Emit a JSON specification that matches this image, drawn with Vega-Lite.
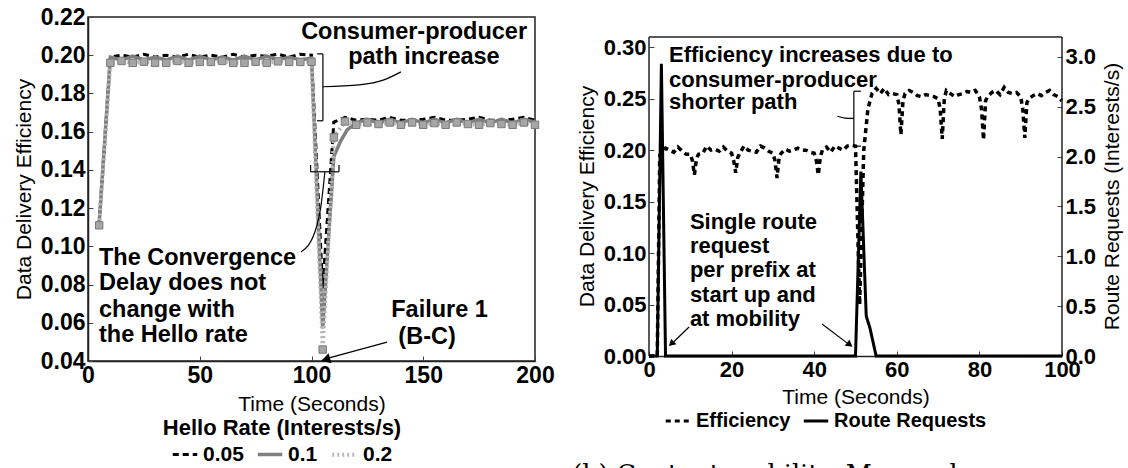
{
  "$schema": "https://vega.github.io/schema/vega-lite/v6.json",
  "padding": {"left": 12, "top": 5, "right": 0, "bottom": 0},
  "background": "white",
  "spacing": 17,
  "resolve": {
    "scale": {"color": "independent", "strokeDash": "independent", "strokeWidth": "independent"},
    "legend": {"color": "independent", "strokeDash": "independent"}
  },
  "hconcat": [
    {
      "width": 447,
      "height": 344,
      "layer": [
        {
          "data": {"values": [
            {"t":5,"v":0.112,"rate":"0.05"},{"t":10,"v":0.199,"rate":"0.05"},{"t":15,"v":0.2,"rate":"0.05"},{"t":20,"v":0.199,"rate":"0.05"},{"t":25,"v":0.2005,"rate":"0.05"},{"t":30,"v":0.199,"rate":"0.05"},{"t":35,"v":0.2,"rate":"0.05"},{"t":40,"v":0.199,"rate":"0.05"},{"t":45,"v":0.2005,"rate":"0.05"},{"t":50,"v":0.199,"rate":"0.05"},{"t":55,"v":0.2,"rate":"0.05"},{"t":60,"v":0.199,"rate":"0.05"},{"t":65,"v":0.2005,"rate":"0.05"},{"t":70,"v":0.199,"rate":"0.05"},{"t":75,"v":0.2,"rate":"0.05"},{"t":80,"v":0.1995,"rate":"0.05"},{"t":85,"v":0.2005,"rate":"0.05"},{"t":90,"v":0.199,"rate":"0.05"},{"t":95,"v":0.2005,"rate":"0.05"},{"t":100,"v":0.2,"rate":"0.05"},{"t":105,"v":0.078,"rate":"0.05"},{"t":110,"v":0.165,"rate":"0.05"},{"t":115,"v":0.1675,"rate":"0.05"},{"t":120,"v":0.166,"rate":"0.05"},{"t":125,"v":0.1665,"rate":"0.05"},{"t":130,"v":0.166,"rate":"0.05"},{"t":135,"v":0.1675,"rate":"0.05"},{"t":140,"v":0.166,"rate":"0.05"},{"t":145,"v":0.166,"rate":"0.05"},{"t":150,"v":0.1665,"rate":"0.05"},{"t":155,"v":0.1675,"rate":"0.05"},{"t":160,"v":0.166,"rate":"0.05"},{"t":165,"v":0.166,"rate":"0.05"},{"t":170,"v":0.1665,"rate":"0.05"},{"t":175,"v":0.1675,"rate":"0.05"},{"t":180,"v":0.166,"rate":"0.05"},{"t":185,"v":0.166,"rate":"0.05"},{"t":190,"v":0.1665,"rate":"0.05"},{"t":195,"v":0.1675,"rate":"0.05"},{"t":200,"v":0.166,"rate":"0.05"},
            {"t":5,"v":0.112,"rate":"0.1"},{"t":10,"v":0.199,"rate":"0.1"},{"t":15,"v":0.1975,"rate":"0.1"},{"t":20,"v":0.1995,"rate":"0.1"},{"t":25,"v":0.1975,"rate":"0.1"},{"t":30,"v":0.199,"rate":"0.1"},{"t":35,"v":0.1975,"rate":"0.1"},{"t":40,"v":0.1995,"rate":"0.1"},{"t":45,"v":0.1975,"rate":"0.1"},{"t":50,"v":0.1995,"rate":"0.1"},{"t":55,"v":0.1975,"rate":"0.1"},{"t":60,"v":0.199,"rate":"0.1"},{"t":65,"v":0.1975,"rate":"0.1"},{"t":70,"v":0.1995,"rate":"0.1"},{"t":75,"v":0.1975,"rate":"0.1"},{"t":80,"v":0.1995,"rate":"0.1"},{"t":85,"v":0.1975,"rate":"0.1"},{"t":90,"v":0.199,"rate":"0.1"},{"t":95,"v":0.1975,"rate":"0.1"},{"t":100,"v":0.1985,"rate":"0.1"},{"t":105,"v":0.057,"rate":"0.1"},{"t":110,"v":0.147,"rate":"0.1"},{"t":113,"v":0.155,"rate":"0.1"},{"t":116,"v":0.161,"rate":"0.1"},{"t":120,"v":0.1645,"rate":"0.1"},{"t":125,"v":0.1665,"rate":"0.1"},{"t":130,"v":0.1645,"rate":"0.1"},{"t":135,"v":0.1665,"rate":"0.1"},{"t":140,"v":0.1645,"rate":"0.1"},{"t":145,"v":0.1665,"rate":"0.1"},{"t":150,"v":0.1645,"rate":"0.1"},{"t":155,"v":0.1665,"rate":"0.1"},{"t":160,"v":0.1645,"rate":"0.1"},{"t":165,"v":0.1665,"rate":"0.1"},{"t":170,"v":0.1645,"rate":"0.1"},{"t":175,"v":0.1665,"rate":"0.1"},{"t":180,"v":0.1645,"rate":"0.1"},{"t":185,"v":0.1665,"rate":"0.1"},{"t":190,"v":0.1645,"rate":"0.1"},{"t":195,"v":0.1665,"rate":"0.1"},{"t":200,"v":0.165,"rate":"0.1"},
            {"t":5,"v":0.111,"rate":"0.2"},{"t":10,"v":0.196,"rate":"0.2"},{"t":15,"v":0.197,"rate":"0.2"},{"t":20,"v":0.196,"rate":"0.2"},{"t":25,"v":0.1966,"rate":"0.2"},{"t":30,"v":0.196,"rate":"0.2"},{"t":35,"v":0.196,"rate":"0.2"},{"t":40,"v":0.197,"rate":"0.2"},{"t":45,"v":0.196,"rate":"0.2"},{"t":50,"v":0.1965,"rate":"0.2"},{"t":55,"v":0.1965,"rate":"0.2"},{"t":60,"v":0.197,"rate":"0.2"},{"t":65,"v":0.196,"rate":"0.2"},{"t":70,"v":0.196,"rate":"0.2"},{"t":75,"v":0.1966,"rate":"0.2"},{"t":80,"v":0.196,"rate":"0.2"},{"t":85,"v":0.1968,"rate":"0.2"},{"t":90,"v":0.1965,"rate":"0.2"},{"t":95,"v":0.1965,"rate":"0.2"},{"t":100,"v":0.1966,"rate":"0.2"},{"t":105,"v":0.046,"rate":"0.2"},{"t":110,"v":0.157,"rate":"0.2"},{"t":115,"v":0.1653,"rate":"0.2"},{"t":120,"v":0.1636,"rate":"0.2"},{"t":125,"v":0.1648,"rate":"0.2"},{"t":130,"v":0.164,"rate":"0.2"},{"t":135,"v":0.1648,"rate":"0.2"},{"t":140,"v":0.1636,"rate":"0.2"},{"t":145,"v":0.1648,"rate":"0.2"},{"t":150,"v":0.1636,"rate":"0.2"},{"t":155,"v":0.1645,"rate":"0.2"},{"t":160,"v":0.1636,"rate":"0.2"},{"t":165,"v":0.1648,"rate":"0.2"},{"t":170,"v":0.164,"rate":"0.2"},{"t":175,"v":0.1636,"rate":"0.2"},{"t":180,"v":0.1645,"rate":"0.2"},{"t":185,"v":0.164,"rate":"0.2"},{"t":190,"v":0.1636,"rate":"0.2"},{"t":195,"v":0.1648,"rate":"0.2"},{"t":200,"v":0.1636,"rate":"0.2"}
          ]},
          "layer": [
            {
              "mark": {"type": "line"},
              "encoding": {
                "x": {"field": "t", "type": "quantitative", "scale": {"domain": [0, 200], "nice": false}, "axis": {"values": [0, 50, 100, 150, 200], "title": "Time (Seconds)", "labelFlush": false, "labelOverlap": false, "labelFontSize": 23}},
                "y": {"field": "v", "type": "quantitative", "scale": {"domain": [0.04, 0.22], "nice": false, "zero": false}, "axis": {"tickCount": 10, "format": ".2f", "title": "Data Delivery Efficiency", "labelOverlap": false, "labelFlush": false, "labelFontSize": 23}},
                "color": {"field": "rate", "type": "nominal", "scale": {"domain": ["0.05", "0.1", "0.2"], "range": ["#000000", "#7f7f7f", "#b8b8b8"]}, "legend": {"title": "Hello Rate (Interests/s)", "orient": "none", "legendX": 75, "legendY": 401, "titleLimit": 500, "titleFontSize": 22}},
                "strokeDash": {"field": "rate", "type": "nominal", "scale": {"domain": ["0.05", "0.1", "0.2"], "range": [[6, 4], [1, 0], [2, 3]]}, "legend": {"title": "Hello Rate (Interests/s)", "orient": "none", "legendX": 75, "legendY": 401, "titleLimit": 500, "titleFontSize": 22}},
                "strokeWidth": {"field": "rate", "type": "nominal", "scale": {"domain": ["0.05", "0.1", "0.2"], "range": [3, 4, 3]}, "legend": null}
              }
            },
            {
              "transform": [{"filter": "datum.rate == '0.2'"}],
              "mark": {"type": "point", "shape": "square", "filled": true, "size": 55, "fill": "#a6a6a6", "stroke": "#7a7a7a", "strokeWidth": 1, "opacity": 1},
              "encoding": {
                "x": {"field": "t", "type": "quantitative"},
                "y": {"field": "v", "type": "quantitative"}
              }
            }
          ]
        },
        {
          "data": {"values": [
            {"t": 102.5, "v": 0.2007, "t2": 105.1, "v2": 0.2007},
            {"t": 102.5, "v": 0.1657, "t2": 105.1, "v2": 0.1657},
            {"t": 105.1, "v": 0.2007, "t2": 105.1, "v2": 0.1657},
            {"t": 99.6, "v": 0.139, "t2": 112.3, "v2": 0.139},
            {"t": 99.6, "v": 0.139, "t2": 99.6, "v2": 0.1426},
            {"t": 112.3, "v": 0.139, "t2": 112.3, "v2": 0.1426}
          ]},
          "mark": {"type": "rule", "color": "black", "strokeWidth": 1.2},
          "encoding": {
            "x": {"field": "t", "type": "quantitative"},
            "y": {"field": "v", "type": "quantitative"},
            "x2": {"field": "t2"},
            "y2": {"field": "v2"}
          }
        },
        {
          "data": {"values": [
            {"t": 105.1, "v": 0.1835, "id": "a", "o": 1},
            {"t": 121.3, "v": 0.1845, "id": "a", "o": 2},
            {"t": 132.4, "v": 0.1871, "id": "a", "o": 3},
            {"t": 140.0, "v": 0.1913, "id": "a", "o": 4},
            {"t": 106.0, "v": 0.139, "id": "b", "o": 1},
            {"t": 104.3, "v": 0.1217, "id": "b", "o": 2},
            {"t": 101.5, "v": 0.1075, "id": "b", "o": 3},
            {"t": 95.3, "v": 0.097, "id": "b", "o": 4},
            {"t": 133.8, "v": 0.0499, "id": "c", "o": 1},
            {"t": 107.5, "v": 0.0415, "id": "c", "o": 2}
          ]},
          "mark": {"type": "line", "color": "black", "strokeWidth": 1.2, "interpolate": "monotone"},
          "encoding": {
            "x": {"field": "t", "type": "quantitative"},
            "y": {"field": "v", "type": "quantitative"},
            "detail": {"field": "id"},
            "order": {"field": "o"}
          }
        },
        {
          "data": {"values": [{"t": 107.0, "v": 0.041}]},
          "mark": {"type": "point", "shape": "triangle", "filled": true, "color": "black", "size": 110, "angle": 254, "opacity": 1},
          "encoding": {
            "x": {"field": "t", "type": "quantitative"},
            "y": {"field": "v", "type": "quantitative"}
          }
        },
        {
          "data": {"values": [
            {"t": 145.9, "v": 0.2123, "label": "Consumer-producer"},
            {"t": 150.3, "v": 0.199, "label": "path increase"},
            {"t": 157.3, "v": 0.0667, "label": "Failure 1"},
            {"t": 151.7, "v": 0.0526, "label": "(B-C)"}
          ]},
          "mark": {"type": "text", "font": "Liberation Sans", "fontWeight": "bold", "fontSize": 23.5, "align": "center", "baseline": "middle", "color": "black"},
          "encoding": {
            "x": {"field": "t", "type": "quantitative"},
            "y": {"field": "v", "type": "quantitative"},
            "text": {"field": "label"}
          }
        },
        {
          "data": {"values": [
            {"t": 4.9, "v": 0.0939, "label": "The Convergence"},
            {"t": 4.9, "v": 0.0808, "label": "Delay does not"},
            {"t": 4.9, "v": 0.0667, "label": "change with"},
            {"t": 4.9, "v": 0.0536, "label": "the Hello rate"}
          ]},
          "mark": {"type": "text", "font": "Liberation Sans", "fontWeight": "bold", "fontSize": 23.5, "align": "left", "baseline": "middle", "color": "black"},
          "encoding": {
            "x": {"field": "t", "type": "quantitative"},
            "y": {"field": "v", "type": "quantitative"},
            "text": {"field": "label"}
          }
        }
      ]
    },
    {
      "width": 413,
      "height": 339,
      "view": {"stroke": null},
      "layer": [
        {
          "layer": [
            {
              "data": {"values": [
                {"t":0,"eff":0},{"t":1,"eff":0},{"t":2,"eff":0},{"t":2.6,"eff":0.195},{"t":4,"eff":0.202},{"t":5,"eff":0.2},{"t":6,"eff":0.198},{"t":7,"eff":0.203},{"t":8,"eff":0.199},{"t":9,"eff":0.196},{"t":10,"eff":0.196},{"t":10.5,"eff":0.19},{"t":11,"eff":0.176},{"t":11.5,"eff":0.192},{"t":12,"eff":0.196},{"t":13,"eff":0.197},{"t":14,"eff":0.204},{"t":15,"eff":0.2},{"t":16,"eff":0.201},{"t":17,"eff":0.199},{"t":18,"eff":0.203},{"t":19,"eff":0.199},{"t":20,"eff":0.197},{"t":20.5,"eff":0.19},{"t":21,"eff":0.178},{"t":21.5,"eff":0.193},{"t":22,"eff":0.197},{"t":23,"eff":0.204},{"t":24,"eff":0.2},{"t":25,"eff":0.199},{"t":26,"eff":0.198},{"t":27,"eff":0.204},{"t":28,"eff":0.202},{"t":29,"eff":0.199},{"t":30,"eff":0.197},{"t":30.5,"eff":0.19},{"t":31,"eff":0.173},{"t":31.5,"eff":0.193},{"t":32,"eff":0.197},{"t":33,"eff":0.201},{"t":34,"eff":0.199},{"t":35,"eff":0.2},{"t":36,"eff":0.202},{"t":37,"eff":0.2},{"t":38,"eff":0.2},{"t":39,"eff":0.198},{"t":40,"eff":0.197},{"t":40.5,"eff":0.19},{"t":41,"eff":0.176},{"t":41.5,"eff":0.194},{"t":42,"eff":0.2},{"t":43,"eff":0.203},{"t":44,"eff":0.198},{"t":45,"eff":0.204},{"t":46,"eff":0.202},{"t":47,"eff":0.2},{"t":48,"eff":0.204},{"t":49,"eff":0.205},{"t":50,"eff":0.204},{"t":51,"eff":0.05},{"t":52,"eff":0.2},{"t":53,"eff":0.24},{"t":54,"eff":0.255},{"t":55,"eff":0.26},{"t":56,"eff":0.255},{"t":57,"eff":0.26},{"t":58,"eff":0.254},{"t":59,"eff":0.255},{"t":60,"eff":0.254},{"t":60.5,"eff":0.245},{"t":61,"eff":0.215},{"t":61.5,"eff":0.248},{"t":62,"eff":0.255},{"t":63,"eff":0.258},{"t":64,"eff":0.256},{"t":65,"eff":0.253},{"t":66,"eff":0.252},{"t":67,"eff":0.254},{"t":68,"eff":0.253},{"t":69,"eff":0.252},{"t":70,"eff":0.25},{"t":70.5,"eff":0.24},{"t":71,"eff":0.211},{"t":71.5,"eff":0.25},{"t":72,"eff":0.258},{"t":73,"eff":0.255},{"t":74,"eff":0.252},{"t":75,"eff":0.254},{"t":76,"eff":0.255},{"t":77,"eff":0.257},{"t":78,"eff":0.256},{"t":79,"eff":0.258},{"t":80,"eff":0.252},{"t":80.5,"eff":0.24},{"t":81,"eff":0.21},{"t":81.5,"eff":0.248},{"t":82,"eff":0.252},{"t":83,"eff":0.256},{"t":84,"eff":0.258},{"t":85,"eff":0.254},{"t":86,"eff":0.261},{"t":87,"eff":0.256},{"t":88,"eff":0.255},{"t":89,"eff":0.256},{"t":90,"eff":0.252},{"t":90.5,"eff":0.24},{"t":91,"eff":0.212},{"t":91.5,"eff":0.246},{"t":92,"eff":0.25},{"t":93,"eff":0.253},{"t":94,"eff":0.255},{"t":95,"eff":0.253},{"t":96,"eff":0.256},{"t":97,"eff":0.258},{"t":98,"eff":0.254},{"t":99,"eff":0.252},{"t":100,"eff":0.248}
              ]},
              "mark": {"type": "line", "color": "black", "strokeWidth": 3.5},
              "encoding": {
                "x": {"field": "t", "type": "quantitative", "scale": {"domain": [0, 100], "nice": false}, "axis": {"values": [0, 20, 40, 60, 80, 100], "title": "Time (Seconds)", "labelFlush": false, "labelOverlap": false}},
                "y": {"field": "eff", "type": "quantitative", "scale": {"domain": [0, 0.3294], "nice": false}, "axis": {"orient": "left", "values": [0, 0.05, 0.1, 0.15, 0.2, 0.25, 0.3], "format": ".2f", "title": "Data Delivery Efficiency", "domain": false, "labelOverlap": false, "labelFlush": false, "titleY": 179}},
                "strokeDash": {"datum": "Efficiency", "scale": {"domain": ["Efficiency", "Route Requests"], "range": [[5, 4], [1, 0]]}, "legend": {"title": null, "orient": "none", "legendX": 15, "legendY": 390, "labelFontSize": 20}}
              }
            },
            {
              "data": {"values": [
                {"t": 0, "eff": 0.31, "t2": 100, "eff2": 0.31},
                {"t": 0, "eff": 0, "t2": 0, "eff2": 0.31},
                {"t": 100, "eff": 0, "t2": 100, "eff2": 0.31}
              ]},
              "mark": {"type": "rule", "color": "#222222", "strokeWidth": 1.5},
              "encoding": {
                "x": {"field": "t", "type": "quantitative"},
                "y": {"field": "eff", "type": "quantitative"},
                "x2": {"field": "t2"},
                "y2": {"field": "eff2"}
              }
            },
            {
              "data": {"values": [
                {"t": 49.6, "eff": 0.2573, "t2": 51.3, "eff2": 0.2573},
                {"t": 49.6, "eff": 0.2039, "t2": 51.3, "eff2": 0.2039},
                {"t": 49.6, "eff": 0.2573, "t2": 49.6, "eff2": 0.2039}
              ]},
              "mark": {"type": "rule", "color": "black", "strokeWidth": 1.2},
              "encoding": {
                "x": {"field": "t", "type": "quantitative"},
                "y": {"field": "eff", "type": "quantitative"},
                "x2": {"field": "t2"},
                "y2": {"field": "eff2"}
              }
            },
            {
              "data": {"values": [
                {"t": 45.6, "eff": 0.233, "id": "a", "o": 1},
                {"t": 47.5, "eff": 0.2312, "id": "a", "o": 2},
                {"t": 49.6, "eff": 0.2308, "id": "a", "o": 3},
                {"t": 9.7, "eff": 0.0282, "id": "b", "o": 1},
                {"t": 6.0, "eff": 0.0138, "id": "b", "o": 2},
                {"t": 41.9, "eff": 0.031, "id": "c", "o": 1},
                {"t": 48.0, "eff": 0.0125, "id": "c", "o": 2}
              ]},
              "mark": {"type": "line", "color": "black", "strokeWidth": 1.2, "interpolate": "monotone"},
              "encoding": {
                "x": {"field": "t", "type": "quantitative"},
                "y": {"field": "eff", "type": "quantitative"},
                "detail": {"field": "id"},
                "order": {"field": "o"}
              }
            },
            {
              "data": {"values": [{"t": 5.6, "eff": 0.0126}]},
              "mark": {"type": "point", "shape": "triangle", "filled": true, "color": "black", "size": 60, "angle": 227, "opacity": 1},
              "encoding": {
                "x": {"field": "t", "type": "quantitative"},
                "y": {"field": "eff", "type": "quantitative"}
              }
            },
            {
              "data": {"values": [{"t": 48.4, "eff": 0.0117}]},
              "mark": {"type": "point", "shape": "triangle", "filled": true, "color": "black", "size": 60, "angle": 127, "opacity": 1},
              "encoding": {
                "x": {"field": "t", "type": "quantitative"},
                "y": {"field": "eff", "type": "quantitative"}
              }
            },
            {
              "data": {"values": [
                {"t": 4.84, "eff": 0.2922, "label": "Efficiency increases due to"},
                {"t": 4.84, "eff": 0.268, "label": "consumer-producer"},
                {"t": 4.84, "eff": 0.2466, "label": "shorter path"},
                {"t": 9.9, "eff": 0.13, "label": "Single route"},
                {"t": 9.9, "eff": 0.1068, "label": "request"},
                {"t": 9.9, "eff": 0.0835, "label": "per prefix at"},
                {"t": 9.9, "eff": 0.0592, "label": "start up and"},
                {"t": 9.9, "eff": 0.0359, "label": "at mobility"}
              ]},
              "mark": {"type": "text", "font": "Liberation Sans", "fontWeight": "bold", "fontSize": 22, "align": "left", "baseline": "middle", "color": "black"},
              "encoding": {
                "x": {"field": "t", "type": "quantitative"},
                "y": {"field": "eff", "type": "quantitative"},
                "text": {"field": "label"}
              }
            },
            {
              "data": {"values": [{"t": -18.6, "eff": -0.1234, "label": "(b)  Content  mobility.   Max  and  mean  er"}]},
              "mark": {"type": "text", "font": "DejaVu Serif", "fontSize": 25.5, "align": "left", "baseline": "alphabetic", "color": "black"},
              "encoding": {
                "x": {"field": "t", "type": "quantitative"},
                "y": {"field": "eff", "type": "quantitative"},
                "text": {"field": "label"}
              }
            }
          ]
        },
        {
          "data": {"values": [
            {"t":0,"rr":0},{"t":2,"rr":0},{"t":3,"rr":2.93},{"t":4,"rr":0},{"t":50,"rr":0},{"t":51.3,"rr":1.85},{"t":52.6,"rr":0.4},{"t":53.5,"rr":0.28},{"t":55,"rr":0},{"t":100,"rr":0}
          ]},
          "mark": {"type": "line", "color": "black", "strokeWidth": 3},
          "encoding": {
            "x": {"field": "t", "type": "quantitative"},
            "y": {"field": "rr", "type": "quantitative", "scale": {"domain": [0, 3.4], "nice": false}, "axis": {"orient": "right", "values": [0, 0.5, 1, 1.5, 2, 2.5, 3], "format": ".1f", "title": "Route Requests (Interests/s)", "domain": false, "labelOverlap": false, "labelFlush": false, "titleAngle": 270, "titleY": 179, "titleBaseline": "top"}},
            "strokeDash": {"datum": "Route Requests"}
          }
        }
      ],
      "resolve": {"scale": {"y": "independent"}}
    }
  ],
  "config": {
    "view": {"stroke": "#222222", "strokeWidth": 1.5},
    "font": "Liberation Sans",
    "axis": {
      "grid": false,
      "domainColor": "#222222",
      "domainWidth": 1.5,
      "tickColor": "#444444",
      "tickSize": -5,
      "tickWidth": 1,
      "labelFont": "Liberation Sans",
      "labelFontSize": 22,
      "labelFontWeight": "bold",
      "labelColor": "black",
      "labelPadding": 8,
      "labelOverlap": false,
      "titleFont": "Liberation Sans",
      "titleFontSize": 21,
      "titleFontWeight": "normal",
      "titleColor": "black",
      "titlePadding": 6
    },
    "axisY": {"labelOverlap": false},
    "legend": {
      "direction": "horizontal",
      "titleFont": "Liberation Sans",
      "titleFontSize": 21,
      "titleFontWeight": "bold",
      "titleColor": "black",
      "titleAnchor": "middle",
      "titleLimit": 500,
      "labelFont": "Liberation Sans",
      "labelFontSize": 21,
      "labelFontWeight": "bold",
      "labelColor": "black",
      "symbolType": "stroke",
      "symbolSize": 600,
      "symbolStrokeWidth": 3,
      "symbolStrokeColor": "black",
      "columnPadding": 6,
      "labelOffset": 4,
      "padding": 0,
      "titlePadding": 0
    }
  }
}
